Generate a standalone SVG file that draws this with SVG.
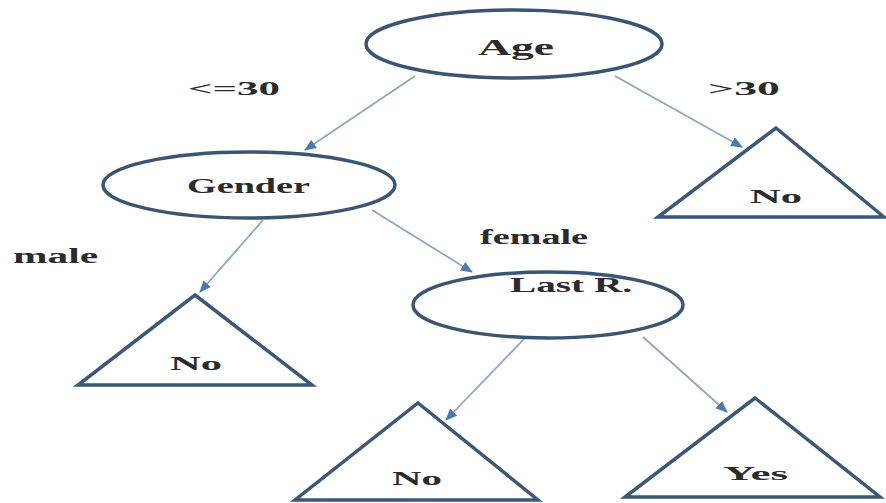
<svg xmlns="http://www.w3.org/2000/svg" width="886" height="503" viewBox="0 0 886 503">
<style>
.node{fill:#fff;stroke:#3b5474;stroke-width:3.5}
.leaf{fill:#fff;stroke:#3d5779;stroke-width:3.5;stroke-linejoin:miter}
.t{font-family:"Liberation Serif","Times New Roman",serif;font-weight:bold;fill:#2b2b2b}
.edge{stroke:#8ba6c6;stroke-width:1.8;fill:none}
</style>
<defs>
<marker id="ah" viewBox="0 0 12 10" refX="11" refY="5" markerWidth="12" markerHeight="10" markerUnits="userSpaceOnUse" orient="auto">
<path d="M0,0 L12,5 L0,10 z" fill="#4d79ad"/>
</marker>
</defs>
<rect width="886" height="503" fill="#fff"/>
<g id="connectors">
<line class="edge" x1="415" y1="76" x2="305" y2="150" marker-end="url(#ah)"/>
<line class="edge" x1="615" y1="76" x2="742" y2="147" marker-end="url(#ah)"/>
<line class="edge" x1="263" y1="220" x2="200" y2="292" marker-end="url(#ah)"/>
<line class="edge" x1="372" y1="210" x2="472" y2="272" marker-end="url(#ah)"/>
<line class="edge" x1="525" y1="338" x2="446" y2="420" marker-end="url(#ah)"/>
<line class="edge" x1="643" y1="337" x2="727" y2="412" marker-end="url(#ah)"/>
<text class="t" x="188" y="95" font-size="18" textLength="92" lengthAdjust="spacingAndGlyphs">&lt;=30</text>
<text class="t" x="708" y="95" font-size="18" textLength="72" lengthAdjust="spacingAndGlyphs">&gt;30</text>
<text class="t" x="13" y="263" font-size="20" textLength="85" lengthAdjust="spacingAndGlyphs">male</text>
<text class="t" x="480" y="244" font-size="20" textLength="108" lengthAdjust="spacingAndGlyphs">female</text>
</g>
<g id="age">
<ellipse class="node" cx="514" cy="44" rx="148" ry="34"/>
<text class="t" x="478" y="55" font-size="24" textLength="76" lengthAdjust="spacingAndGlyphs">Age</text>
</g>
<g id="gender">
<ellipse class="node" cx="249" cy="185" rx="146" ry="33"/>
<text class="t" x="187" y="193" font-size="22" textLength="123" lengthAdjust="spacingAndGlyphs">Gender</text>
</g>
<g id="no-right">
<polygon class="leaf" points="776,128 884,217 658,217"/>
<text class="t" x="750" y="203" font-size="19" textLength="52" lengthAdjust="spacingAndGlyphs">No</text>
</g>
<g id="no-left">
<polygon class="leaf" points="195,295 312,385 78,385"/>
<text class="t" x="170" y="370" font-size="19" textLength="52" lengthAdjust="spacingAndGlyphs">No</text>
</g>
<g id="last-r">
<ellipse class="node" cx="548" cy="305" rx="135" ry="33"/>
<text class="t" x="510" y="292" font-size="22" textLength="122" lengthAdjust="spacingAndGlyphs">Last R.</text>
</g>
<g id="no-bottom">
<polygon class="leaf" points="418,403 538,500 295,500"/>
<text class="t" x="392" y="485" font-size="19" textLength="50" lengthAdjust="spacingAndGlyphs">No</text>
</g>
<g id="yes">
<polygon class="leaf" points="755,398 880,497 625,497"/>
<text class="t" x="723" y="480" font-size="19" textLength="65" lengthAdjust="spacingAndGlyphs">Yes</text>
</g>
</svg>
